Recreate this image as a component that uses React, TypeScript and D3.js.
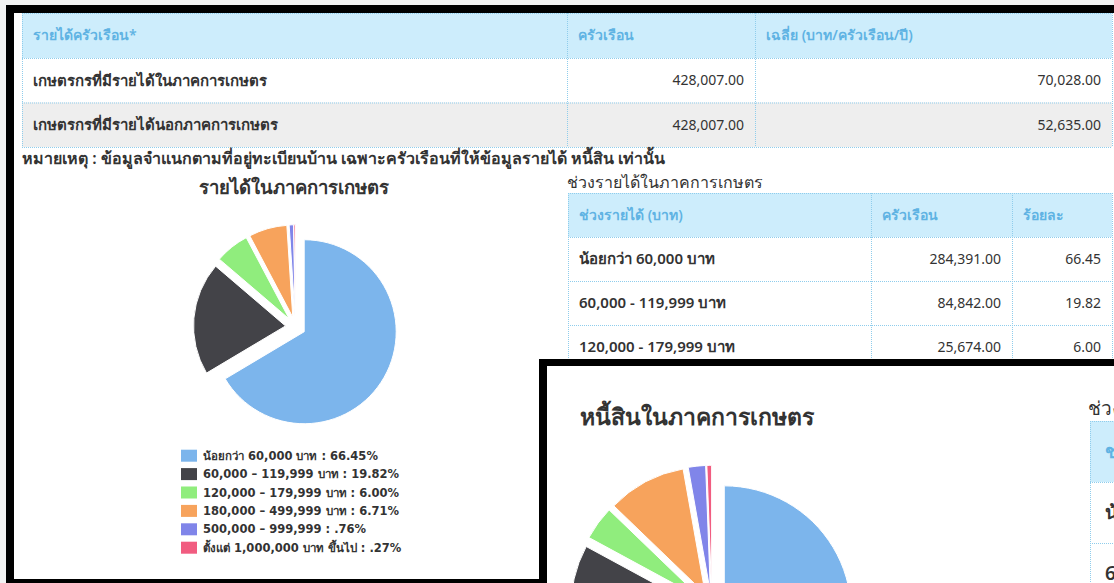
import * as d3 from "d3";

const W = 1114;
const H = 583;
const FONT = "Tahoma, 'Noto Sans', 'DejaVu Sans', sans-serif";
const LEGEND_FONT = "'DejaVu Sans', Verdana, 'Noto Sans', sans-serif";

// summary table
const summaryHeaders = ["รายได้ครัวเรือน*", "ครัวเรือน", "เฉลี่ย (บาท/ครัวเรือน/ปี)"];
const summaryLabels = ["เกษตรกรที่มีรายได้ในภาคการเกษตร", "เกษตรกรที่มีรายได้นอกภาคการเกษตร"];
const summaryHouseholds = [428007, 428007];
const summaryAverages = [70028, 52635];
const noteText = "หมายเหตุ : ข้อมูลจำแนกตามที่อยู่ทะเบียนบ้าน เฉพาะครัวเรือนที่ให้ข้อมูลรายได้ หนี้สิน เท่านั้น";

// income pie + table
const incomeTitle = "รายได้ในภาคการเกษตร";
const incomeTableTitle = "ช่วงรายได้ในภาคการเกษตร";
const incomeTableHeaders = ["ช่วงรายได้ (บาท)", "ครัวเรือน", "ร้อยละ"];
const incomeRanges = [
  "น้อยกว่า 60,000 บาท",
  "60,000 – 119,999 บาท",
  "120,000 – 179,999 บาท",
  "180,000 – 499,999 บาท",
  "500,000 – 999,999",
  "ตั้งแต่ 1,000,000 บาท ขึ้นไป",
];
const incomeTableRanges = ["น้อยกว่า 60,000 บาท", "60,000 - 119,999 บาท", "120,000 - 179,999 บาท"];
const incomeHouseholds = [284391, 84842, 25674];
const incomeShares = [66.45, 19.82, 6.0, 6.71, 0.76, 0.27];

// debt pie (zoomed inset, values estimated from the slices)
const debtTitle = "หนี้สินในภาคการเกษตร";
const debtTableTitle = "ช่วงหนี้สินในภาคการเกษตร";
const debtTableHeaders = ["ช่วงหนี้สิน (บาท)"];
const debtTableRanges = ["น้อยกว่า 50,000 บาท", "60,000 - 119,999 บาท"];
const debtShares = [65.5, 17.4, 4.3, 10.0, 2.2, 0.6];

const sliceColors = ["#7cb5ec", "#434348", "#90ed7d", "#f7a35c", "#8085e9", "#f15c80"];

const fmtNum = d3.format(",.2f");
const fmtPct = (p: number) => p.toFixed(2).replace(/^0/, "") + "%";

const pieGen = d3.pie<number>().sort(null).value((d) => d);

function Pie({ values, cx, cy, r, offset }: { values: number[]; cx: number; cy: number; r: number; offset: number }) {
  const arcs = pieGen(values);
  const arc = d3.arc<d3.PieArcDatum<number>>().innerRadius(0).outerRadius(r);
  return (
    <g transform={`translate(${cx},${cy})`}>
      {arcs.map((a, i) => {
        const mid = (a.startAngle + a.endAngle) / 2;
        const dx = Math.sin(mid) * offset;
        const dy = -Math.cos(mid) * offset;
        return (
          <path
            key={i}
            d={arc(a) || ""}
            transform={`translate(${dx},${dy})`}
            fill={sliceColors[i]}
            stroke="#fff"
            strokeWidth={1}
          />
        );
      })}
    </g>
  );
}

type Cell = { text: string; align: "left" | "right"; bold?: boolean };

function Table({
  cols,
  top,
  headerH,
  rowH,
  header,
  rows,
  fs,
  labelFs,
  stripe = false,
}: {
  cols: number[];
  top: number;
  headerH: number;
  rowH: number;
  header: string[];
  rows: Cell[][];
  fs: number;
  labelFs: number;
  stripe?: boolean;
}) {
  const y = d3
    .scaleLinear()
    .domain([0, 1])
    .range([top + headerH, top + headerH + rowH]);
  const pad = Math.round(fs * 0.8);
  const line = { stroke: "#8fcdec", strokeWidth: 1, strokeDasharray: "1,1" };
  const bottom = y(rows.length);
  return (
    <g fontFamily={FONT} fontSize={fs}>
      <rect x={cols[0]} y={top} width={cols[cols.length - 1] - cols[0]} height={headerH} fill="#cdedfc" />
      {rows.map((_, r) => (
        <rect
          key={r}
          x={cols[0]}
          y={y(r)}
          width={cols[cols.length - 1] - cols[0]}
          height={rowH}
          fill={stripe && r % 2 === 1 ? "#eeeeee" : "#ffffff"}
        />
      ))}
      {header.map((h, c) => (
        <text key={c} x={cols[c] + pad} y={top + headerH / 2} dy="0.35em" fill="#5fb3e3" fontWeight={600}>
          {h}
        </text>
      ))}
      {rows.map((row, r) =>
        row.map((cell, c) => (
          <text
            key={`${r}-${c}`}
            x={cell.align === "left" ? cols[c] + pad : cols[c + 1] - pad}
            y={y(r) + rowH / 2}
            dy="0.35em"
            textAnchor={cell.align === "left" ? "start" : "end"}
            fontSize={cell.bold ? labelFs : fs}
            fontWeight={cell.bold ? 600 : 400}
            fill="#333"
          >
            {cell.text}
          </text>
        ))
      )}
      {[top, top + headerH, ...rows.map((_, r) => y(r + 1))].map((yy, i) => (
        <line key={`h${i}`} x1={cols[0]} x2={cols[cols.length - 1]} y1={yy + 0.5} y2={yy + 0.5} {...line} />
      ))}
      {cols.map((xx, i) => (
        <line key={`v${i}`} x1={xx + 0.5} x2={xx + 0.5} y1={top} y2={bottom} {...line} />
      ))}
    </g>
  );
}

export default function App() {
  const summaryRows: Cell[][] = summaryLabels.map((l, i) => [
    { text: l, align: "left", bold: true },
    { text: fmtNum(summaryHouseholds[i]), align: "right" },
    { text: fmtNum(summaryAverages[i]), align: "right" },
  ]);
  const incomeRows: Cell[][] = incomeTableRanges.map((l, i) => [
    { text: l, align: "left", bold: true },
    { text: fmtNum(incomeHouseholds[i]), align: "right" },
    { text: incomeShares[i].toFixed(2), align: "right" },
  ]);
  const debtRows: Cell[][] = debtTableRanges.map((l) => [{ text: l, align: "left", bold: true }]);

  const legendY = d3
    .scaleLinear()
    .domain([0, 1])
    .range([455.7, 455.7 + 18.4]);

  return (
    <svg
      width={W}
      height={H}
      viewBox={`0 0 ${W} ${H}`}
      style={{ position: "absolute", left: 0, top: 0, display: "block" }}
    >
      <rect width={W} height={H} fill="#f2f3f3" />
      {/* first screenshot */}
      <rect x={6} y={5} width={W} height={H} fill="#000" />
      <rect x={14} y={13} width={W} height={566} fill="#fff" />

      <Table
        cols={[22, 567, 755, 1112]}
        top={13}
        headerH={45}
        rowH={44.5}
        header={summaryHeaders}
        rows={summaryRows}
        fs={14}
        labelFs={15}
        stripe
      />
      <text x={22} y={158} dy="0.35em" fontFamily={FONT} fontSize={16} fontWeight={600} fill="#333">
        {noteText}
      </text>

      <text x={294} y={188} dy="0.35em" textAnchor="middle" fontFamily={FONT} fontSize={18.5} fontWeight="bold" fill="#333">
        {incomeTitle}
      </text>
      <Pie values={incomeShares} cx={295.5} cy={326.8} r={92} offset={10} />

      <g fontFamily={LEGEND_FONT} fontSize={11.5} fontWeight="bold" fill="#333">
        {incomeRanges.map((name, i) => (
          <g key={name} transform={`translate(181,${legendY(i)})`}>
            <rect x={0} y={-6} width={16} height={12} fill={sliceColors[i]} />
            <text x={22} y={0} dy="0.35em">
              {name} : {fmtPct(incomeShares[i])}
            </text>
          </g>
        ))}
      </g>

      <text x={567} y={182} dy="0.35em" fontFamily={FONT} fontSize={16} fontWeight={500} fill="#333">
        {incomeTableTitle}
      </text>
      <Table
        cols={[568, 871, 1012, 1112]}
        top={193}
        headerH={44}
        rowH={44}
        header={incomeTableHeaders}
        rows={incomeRows}
        fs={14}
        labelFs={15}
      />

      {/* zoomed inset screenshot */}
      <defs>
        <clipPath id="inset-clip">
          <rect x={547} y={366} width={W - 547} height={H - 366} />
        </clipPath>
      </defs>
      <rect x={539} y={359} width={W} height={H} fill="#000" />
      <rect x={547} y={366} width={W} height={H} fill="#fff" />
      <g clipPath="url(#inset-clip)">
        <text x={580} y={417} dy="0.35em" fontFamily={FONT} fontSize={23} fontWeight="bold" fill="#333">
          {debtTitle}
        </text>
        <Pie values={debtShares} cx={711.9} cy={606.3} r={127} offset={14} />
        <text x={1088} y={408} dy="0.35em" fontFamily={FONT} fontSize={19} fill="#333">
          {debtTableTitle}
        </text>
        <Table
          cols={[1090, 1400]}
          top={421}
          headerH={61}
          rowH={61}
          header={debtTableHeaders}
          rows={debtRows}
          fs={19}
          labelFs={19}
        />
      </g>
      <rect x={6} y={579} width={534} height={4} fill="#000" />
    </svg>
  );
}
